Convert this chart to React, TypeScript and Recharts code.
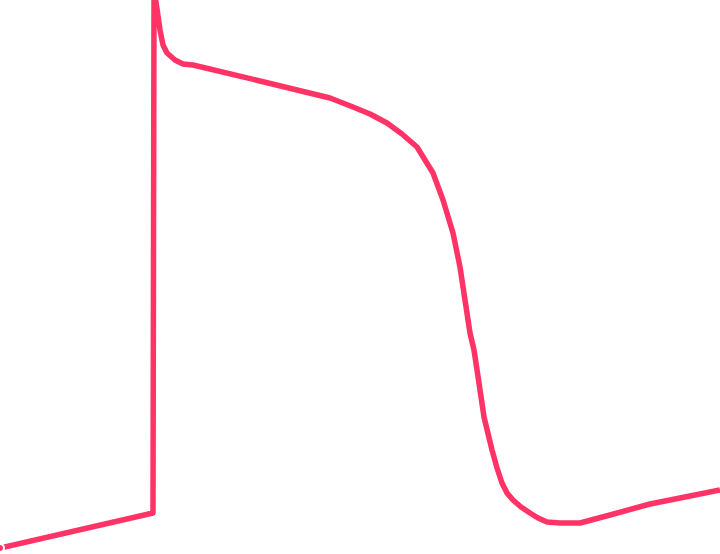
import { LineChart, Line, XAxis, YAxis } from 'recharts';

// time (px-like units) and membrane level (0 = bottom of frame)
const times = [
  0, 153, 154, 156, 158, 160, 163, 167, 175, 183, 193, 260, 330, 353, 370, 387, 402,
  417, 433, 443, 453, 460, 465, 470, 474, 479, 484, 492, 497, 502, 507, 513, 521, 530,
  538, 547, 560, 580, 610, 650, 690, 720,
];
const levels = [
  6, 41, 556, 552, 538, 524, 509, 501, 494, 490, 489, 473, 456, 447, 440, 431, 420,
  407, 381, 354, 321, 287, 254, 221, 204, 171, 137, 104, 86, 71, 61, 54, 47, 41,
  36, 32, 31, 31, 39, 50, 58, 64,
];

const data = times.map((t, i) => ({ t, v: levels[i] }));

export default function App() {
  return (
    <div style={{ position: 'fixed', top: 0, left: 0, width: 720, height: 554, background: '#fff' }}>
      <LineChart width={720} height={554} data={data} margin={{ top: 0, right: 0, bottom: 0, left: 0 }}>
        <XAxis dataKey="t" type="number" domain={[0, 720]} hide />
        <YAxis type="number" domain={[0, 554]} hide allowDataOverflow />
        <Line
          type="linear"
          dataKey="v"
          stroke="#ff3366"
          strokeWidth={5.5}
          dot={false}
          isAnimationActive={false}
          strokeLinejoin="round"
        />
      </LineChart>
    </div>
  );
}
